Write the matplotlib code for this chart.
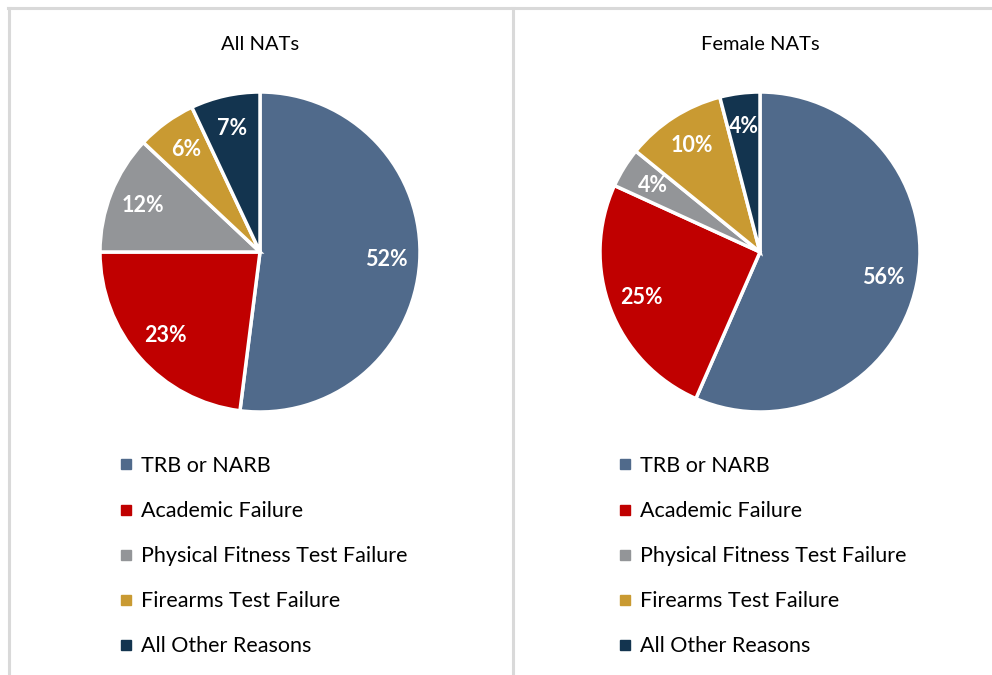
import matplotlib
matplotlib.use("Agg")
import matplotlib.pyplot as plt
from matplotlib.lines import Line2D

categories = ["TRB or NARB", "Academic Failure", "Physical Fitness Test Failure",
              "Firearms Test Failure", "All Other Reasons"]
all_nats = [52, 23, 12, 6, 7]
female_nats = [56, 25, 4, 10, 4]
titles = ["All NATs", "Female NATs"]
colors = ["#506a8b", "#c00000", "#939598", "#c99a32", "#13344f"]

plt.rcParams['font.family'] = ['Lato', 'DejaVu Sans']

W, H = 992, 675
fig = plt.figure(figsize=(W / 100, H / 100), dpi=100)

# frame lines
border = "#d9d9d9"
fig.add_artist(Line2D([8 / W, 1], [1 - 8 / H, 1 - 8 / H], color=border, lw=2.2, transform=fig.transFigure))
fig.add_artist(Line2D([8.5 / W, 8.5 / W], [0, 1 - 8 / H], color=border, lw=2.2, transform=fig.transFigure))
fig.add_artist(Line2D([512.5 / W, 512.5 / W], [0, 1 - 8 / H], color=border, lw=2.2, transform=fig.transFigure))

centers_x = [260, 760]
cy = 252
r = 160
pad = 1.03
legend_x = [120, 619]

for data, title, cx, lx in zip([all_nats, female_nats], titles, centers_x, legend_x):
    ax = fig.add_axes([(cx - r * pad) / W, 1 - (cy + r * pad) / H, 2 * r * pad / W, 2 * r * pad / H])
    wedges, texts = ax.pie(data, colors=colors, startangle=90, counterclock=False,
                           labels=[f"{v}%" for v in data], labeldistance=0.79,
                           wedgeprops=dict(edgecolor="white", linewidth=2.5),
                           radius=1)
    for t in texts:
        t.set_ha("center")
        t.set_va("center")
        t.set_color("white")
        t.set_fontweight("bold")
        t.set_fontsize(15.5)
    ax.set_xlim(-pad, pad)
    ax.set_ylim(-pad, pad)
    ax.axis("off")
    fig.text(cx / W, 1 - 45 / H, title, ha="center", va="center", fontsize=14.5, color="#000000")
    handles = [Line2D([], [], marker="s", linestyle="none", markersize=6.5,
                      markerfacecolor=c, markeredgecolor=c) for c in colors]
    fig.legend(handles, categories, loc="upper left",
               bbox_to_anchor=(lx / W, 1 - 456 / H), frameon=False,
               fontsize=15.5, handlelength=0.55, handletextpad=0.42,
               labelspacing=1.165, borderpad=0, borderaxespad=0)

fig.savefig("out.png", dpi=100)
